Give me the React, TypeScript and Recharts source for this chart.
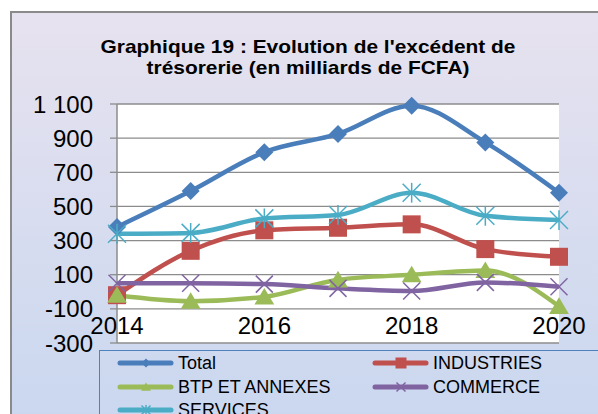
import React from "react";
import { LineChart, Line, XAxis, YAxis, CartesianGrid } from "recharts";

const years = [2014, 2015, 2016, 2017, 2018, 2019, 2020];
const total = [380, 590, 818, 925, 1090, 875, 580];
const industries = [-20, 240, 360, 375, 395, 250, 205];
const btp = [-20, -55, -30, 70, 100, 125, -85];
const commerce = [50, 50, 45, 20, 5, 55, 30];
const services = [340, 345, 430, 450, 580, 445, 420];

const yTicks = [-300, -100, 100, 300, 500, 700, 900, 1100];
const xTicks = [2014, 2016, 2018, 2020];

const data = years.map((y, i) => ({
  year: y,
  total: total[i],
  industries: industries[i],
  btp: btp[i],
  commerce: commerce[i],
  services: services[i],
}));

const FONT = '"Liberation Sans", Arial, Helvetica, sans-serif';

const BLUE = "#4a7ebb";
const RED = "#c0504d";
const GREEN = "#9bbb59";
const PURPLE = "#8064a2";
const CYAN = "#4bacc6";

type Shape = "diamond" | "square" | "triangle" | "x" | "star";

function marker(shape: Shape, color: string, cx: number, cy: number, s: number) {
  const h = s / 2;
  if (shape === "diamond")
    return <polygon points={`${cx},${cy - h} ${cx + h},${cy} ${cx},${cy + h} ${cx - h},${cy}`} fill={color} />;
  if (shape === "square") return <rect x={cx - h} y={cy - h} width={s} height={s} fill={color} />;
  if (shape === "triangle")
    return <polygon points={`${cx},${cy - h} ${cx + h * 1.1},${cy + h * 0.85} ${cx - h * 1.1},${cy + h * 0.85}`} fill={color} />;
  if (shape === "x")
    return (
      <g stroke={color} strokeWidth={1.5}>
        <line x1={cx - h} y1={cy - h} x2={cx + h} y2={cy + h} />
        <line x1={cx - h} y1={cy + h} x2={cx + h} y2={cy - h} />
      </g>
    );
  return (
    <g stroke={color} strokeWidth={1.5}>
      <line x1={cx - h} y1={cy - h} x2={cx + h} y2={cy + h} />
      <line x1={cx - h} y1={cy + h} x2={cx + h} y2={cy - h} />
      <line x1={cx} y1={cy - h * 1.1} x2={cx} y2={cy + h * 1.1} />
    </g>
  );
}

const dotFor = (shape: Shape, color: string, s: number) => (props: any) => (
  <g key={`${shape}-${props.index}`}>{marker(shape, color, props.cx, props.cy, s)}</g>
);

const XTick = (props: any) => (
  <text x={props.x} y={props.y - 18} textAnchor="middle" dominantBaseline="central" fontSize={24} fontFamily={FONT} fill="#000">
    {props.payload.value}
  </text>
);

const legendItems: { label: string; color: string; shape: Shape; x: number; y: number }[] = [
  { label: "Total", color: BLUE, shape: "diamond", x: 18, y: 12 },
  { label: "INDUSTRIES", color: RED, shape: "square", x: 273, y: 12 },
  { label: "BTP ET ANNEXES", color: GREEN, shape: "triangle", x: 18, y: 36 },
  { label: "COMMERCE", color: PURPLE, shape: "x", x: 273, y: 36 },
  { label: "SERVICES", color: CYAN, shape: "star", x: 18, y: 59 },
];

const LegendBox = () => (
  <svg width={520} height={80} style={{ display: "block", overflow: "visible" }}>
    {legendItems.map((it) => (
      <g key={it.label}>
        <line x1={it.x + 2} y1={it.y} x2={it.x + 53} y2={it.y} stroke={it.color} strokeWidth={5} strokeLinecap="round" />
        {marker(it.shape, it.color, it.x + 28, it.y, it.shape === "square" ? 11 : 9)}
        <text x={it.x + 60} y={it.y} dominantBaseline="central" fontSize={18} fontFamily={FONT} fill="#000">
          {it.label}
        </text>
      </g>
    ))}
  </svg>
);

export default function App() {
  return (
    <div style={{ position: "fixed", left: 0, top: 0, width: 598, height: 414, overflow: "hidden", background: "#fff" }}>
      <div
        style={{
          position: "absolute",
          left: 10,
          top: 11,
          width: 620,
          height: 420,
          border: "2px solid #8a8a8a",
          background: "linear-gradient(to bottom, #e7e2ef 0%, #d6dcef 55%, #c9d7ef 100%)",
        }}
      />
      <div
        style={{
          position: "absolute",
          left: 0,
          top: 36,
          width: 616,
          textAlign: "center",
          fontFamily: FONT,
          fontWeight: "bold",
          fontSize: 19,
          lineHeight: "21px",
          transform: "scaleX(1.1)",
          color: "#000",
        }}
      >
        Graphique 19 : Evolution de l'excédent de
        <br />
        trésorerie (en milliards de FCFA)
      </div>
      <div style={{ position: "absolute", left: 0, top: 0 }}>
        <LineChart width={598} height={414} data={data} margin={{ top: 104, right: 39, bottom: 51, left: 17 }}>
          <CartesianGrid vertical={false} stroke="#8c8c8c" strokeWidth={1.3} fill="#ffffff" />
          <XAxis
            dataKey="year"
            type="number"
            domain={[2014, 2020]}
            ticks={xTicks}
            height={20}
            tickSize={0}
            tickMargin={0}
            axisLine={false}
            tickLine={false}
            tick={<XTick />}
            interval={0}
          />
          <YAxis
            domain={[-300, 1100]}
            ticks={yTicks}
            width={100}
            interval={0}
            tickSize={7}
            tickMargin={17}
            axisLine={{ stroke: "#8c8c8c", strokeWidth: 1.5 }}
            tickLine={{ stroke: "#8c8c8c", strokeWidth: 1.3 }}
            tick={{ fontSize: 24, fill: "#000", fontFamily: FONT }}
            tickFormatter={(v) => (v === 1100 ? "1 100" : String(v))}
          />
          <Line type="monotone" dataKey="total" name="Total" stroke={BLUE} strokeWidth={4.5} dot={dotFor("diamond", BLUE, 18)} isAnimationActive={false} />
          <Line type="monotone" dataKey="industries" name="INDUSTRIES" stroke={RED} strokeWidth={4.5} dot={dotFor("square", RED, 18)} isAnimationActive={false} />
          <Line type="monotone" dataKey="btp" name="BTP ET ANNEXES" stroke={GREEN} strokeWidth={4.5} dot={dotFor("triangle", GREEN, 18)} isAnimationActive={false} />
          <Line type="monotone" dataKey="commerce" name="COMMERCE" stroke={PURPLE} strokeWidth={4.5} dot={dotFor("x", PURPLE, 17)} isAnimationActive={false} />
          <Line type="monotone" dataKey="services" name="SERVICES" stroke={CYAN} strokeWidth={4.5} dot={dotFor("star", CYAN, 18)} isAnimationActive={false} />
        </LineChart>
      </div>
      <div style={{ position: "absolute", left: 99, top: 350, width: 520, height: 80, border: "1px solid #4f81bd" }}>
        <LegendBox />
      </div>
    </div>
  );
}
